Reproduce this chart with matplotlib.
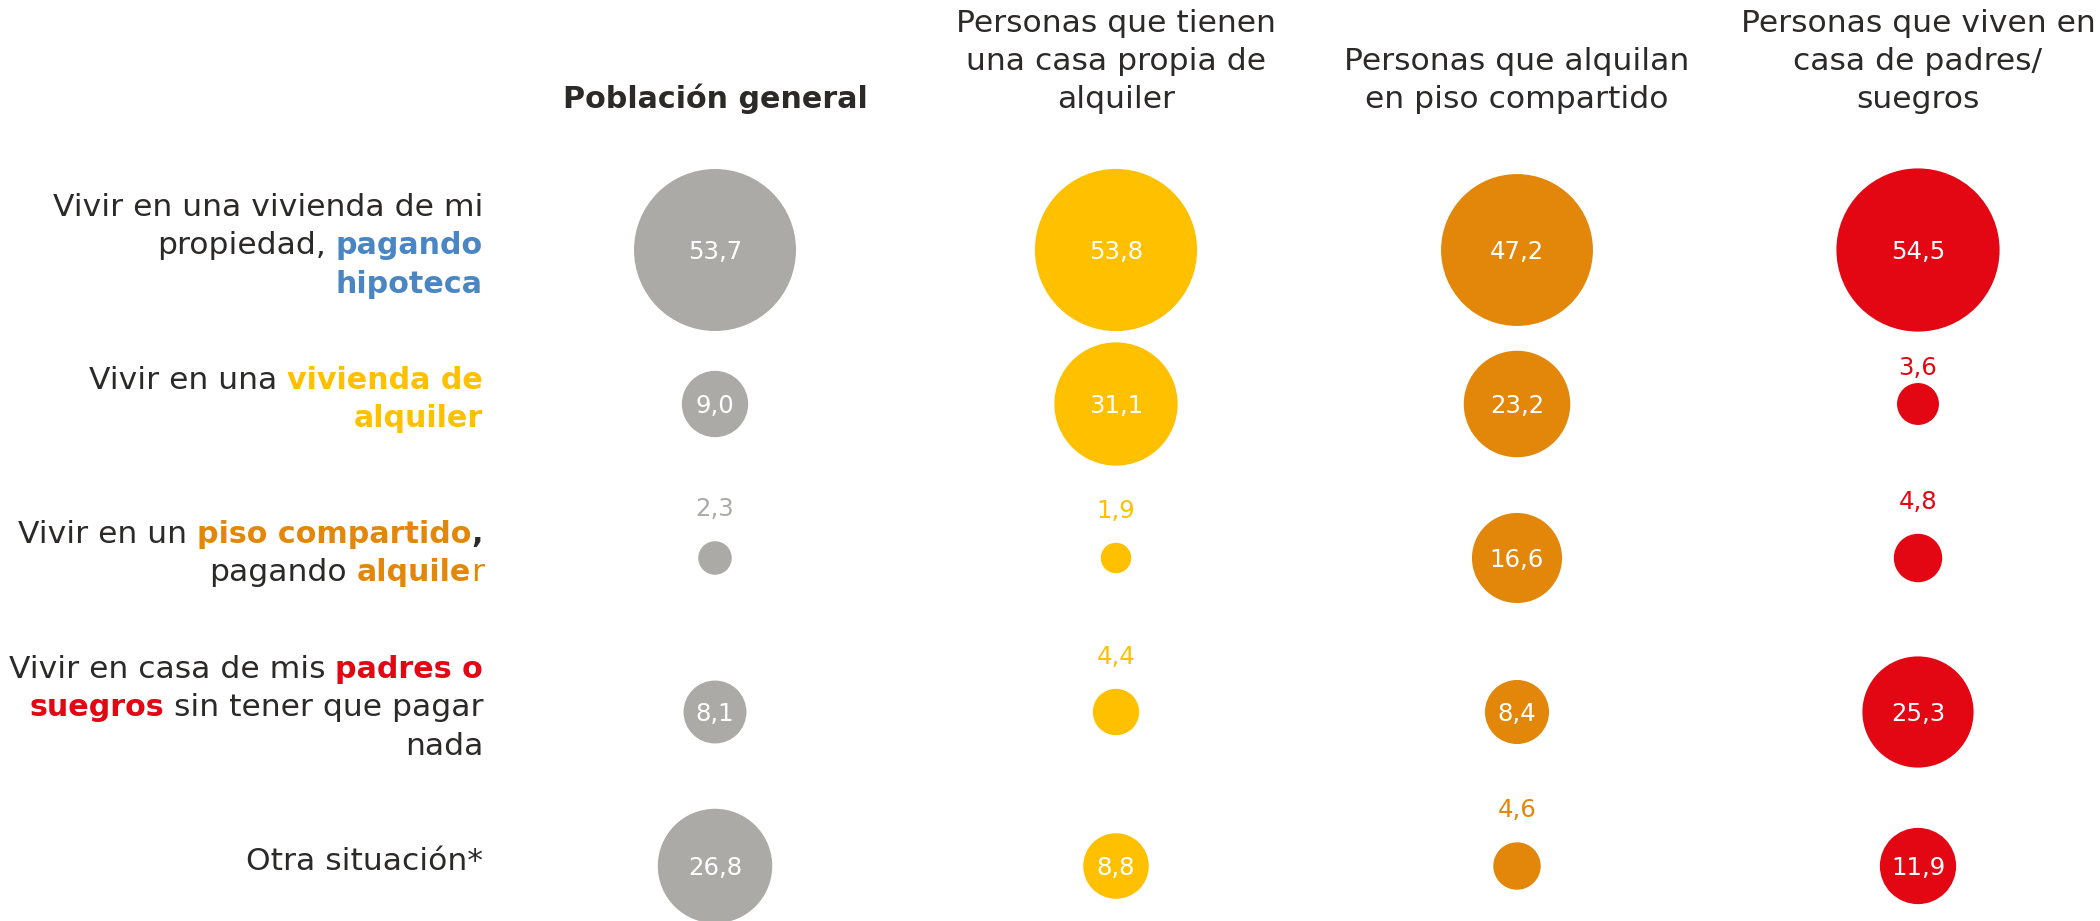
import matplotlib
matplotlib.use("Agg")
import matplotlib.pyplot as plt
from matplotlib.patches import Circle
import numpy as np

# ---------------- data ----------------
groups = ["Población general",
          "Personas que tienen\nuna casa propia de\nalquiler",
          "Personas que alquilan\nen piso compartido",
          "Personas que viven en\ncasa de padres/\nsuegros"]
group_bold = [True, False, False, False]

general = [53.7, 9.0, 2.3, 8.1, 26.8]
casa_propia_alquiler = [53.8, 31.1, 1.9, 4.4, 8.8]
piso_compartido = [47.2, 23.2, 16.6, 8.4, 4.6]
casa_padres = [54.5, 3.6, 4.8, 25.3, 11.9]
series = [general, casa_propia_alquiler, piso_compartido, casa_padres]

DARK = "#2B2A29"
GRAY = "#ABAAA6"
YELLOW = "#FFC000"
ORANGE = "#E3870B"
RED = "#E30613"
BLUE = "#4A86C4"
colors = [GRAY, YELLOW, ORANGE, RED]

# row labels as runs: (text, bold, color)
row_labels = [
    [[("Vivir en una vivienda de mi", False, DARK)],
     [("propiedad, ", False, DARK), ("pagando", True, BLUE)],
     [("hipoteca", True, BLUE)]],
    [[("Vivir en una ", False, DARK), ("vivienda de", True, YELLOW)],
     [("alquiler", True, YELLOW)]],
    [[("Vivir en un ", False, DARK), ("piso compartido", True, ORANGE), (",", True, DARK)],
     [("pagando ", False, DARK), ("alquile", True, ORANGE), ("r", False, ORANGE)]],
    [[("Vivir en casa de mis ", False, DARK), ("padres o", True, RED)],
     [("suegros", True, RED), (" sin tener que pagar", False, DARK)],
     [("nada", False, DARK)]],
    [[("Otra situación*", False, DARK)]],
]

# ---------------- layout ----------------
W, H = 2100, 921
plt.rcParams['font.family'] = ['DejaVu Sans']
fig = plt.figure(figsize=(W / 100, H / 100), dpi=100)
ax = fig.add_axes([0, 0, 1, 1])
ax.set_xlim(0, W)
ax.set_ylim(H, 0)
ax.axis('off')
renderer = fig.canvas.get_renderer()

FS = 22.6          # regular label / header font size (pt)
FSB = 21.7         # bold font size (DejaVu bold is wider)
VFS = 17.6         # value font size
col_x = [715, 1116, 1517, 1918]
row_y = [250, 404, 558, 712, 866]
label_right = 483
line_h = 38.5
K = 81 / np.sqrt(53.7)   # radius scale (px per sqrt unit)


def fs_for(bold):
    return FSB if bold else FS


def tw(s, bold):
    t = ax.text(0, 0, s, fontsize=fs_for(bold), fontweight='bold' if bold else 'normal')
    w = t.get_window_extent(renderer).width
    t.remove()
    return w


def run_w(s, bold):
    return tw('x' + s + 'x', bold) - tw('xx', bold)


# row labels
for ri, lines in enumerate(row_labels):
    n = len(lines)
    for li, runs in enumerate(lines):
        yb = row_y[ri] + 4 + (li - (n - 1) / 2) * line_h
        x = label_right
        for s, bold, c in reversed(runs):
            w = run_w(s, bold)
            x -= w
            stripped = s.lstrip(' ')
            lead = len(s) - len(stripped)
            off = run_w(' ' * lead, bold) if lead else 0
            ax.text(x + off, yb, stripped.rstrip(' '), fontsize=fs_for(bold),
                    fontweight='bold' if bold else 'normal', color=c,
                    ha='left', va='baseline')

# headers
for gi, g in enumerate(groups):
    glines = g.split("\n")
    n = len(glines)
    for li, line in enumerate(glines):
        yb = 108 - (n - 1 - li) * 38
        ax.text(col_x[gi], yb, line, fontsize=fs_for(group_bold[gi]),
                fontweight='bold' if group_bold[gi] else 'normal',
                color=DARK, ha='center', va='baseline')

# bubbles
label_gap_override = {(3, 1): 8}
for gi, vals in enumerate(series):
    for ri, v in enumerate(vals):
        cx, cy = col_x[gi], row_y[ri]
        r = K * np.sqrt(v)
        ax.add_patch(Circle((cx, cy), r, facecolor=colors[gi], edgecolor='none'))
        txt = f"{v:.1f}".replace('.', ',')
        if v >= 8:
            ax.text(cx, cy + 9, txt, fontsize=VFS, color='white',
                    ha='center', va='baseline')
        else:
            gap = label_gap_override.get((gi, ri), 25)
            ax.text(cx, cy - r - gap, txt, fontsize=VFS, color=colors[gi],
                    ha='center', va='baseline')

fig.savefig("out.png", dpi=100, facecolor='white')
